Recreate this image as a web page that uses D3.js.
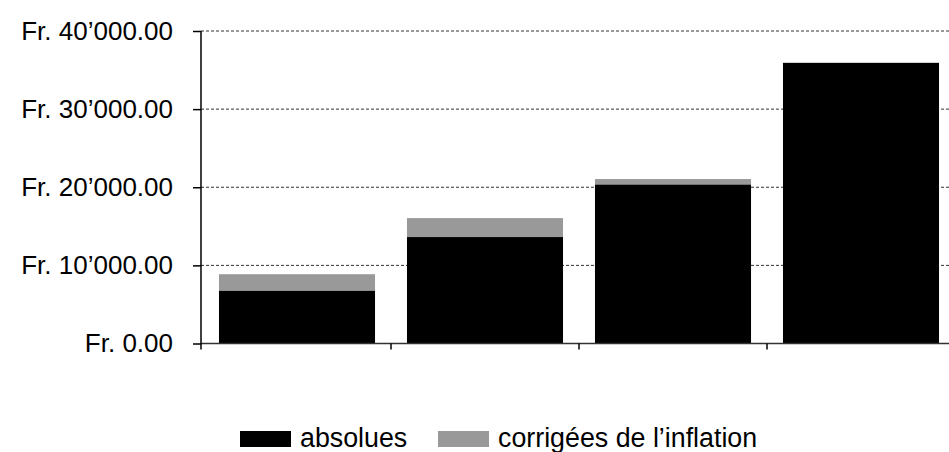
<!DOCTYPE html>
<html><head><meta charset="utf-8">
<script src="https://cdn.jsdelivr.net/npm/d3@7"></script>
<style>
html,body{margin:0;padding:0;background:#fff;}
svg{display:block;font-family:"Liberation Sans",Arial,Helvetica,sans-serif;}
</style></head>
<body><svg id="chart" width="949" height="452"></svg>
<script>
const categories = ["1", "2", "3", "4"];
const absolues = [6730, 13620, 20320, 35920];
const corrigees = [8870, 16050, 21050, 35920];
const tickValues = [0, 10000, 20000, 30000, 40000];
const tickLabels = ["Fr. 0.00", "Fr. 10’000.00", "Fr. 20’000.00", "Fr. 30’000.00", "Fr. 40’000.00"];
const seriesNames = ["absolues", "corrigées de l’inflation"];
const seriesColors = ["#000000", "#999999"];

const svg = d3.select("#chart");
const W = 949;
const y = d3.scaleLinear().domain([0, 40000]).range([343.5, 31]);
const x = d3.scaleBand().domain(categories).range([203, 955]).paddingInner(0.17).paddingOuter(0.085);
const axisX = 201;

// gridlines
svg.append("g").selectAll("line").data(tickValues.filter(d => d > 0)).join("line")
  .attr("x1", axisX).attr("x2", W)
  .attr("y1", d => y(d)).attr("y2", d => y(d))
  .attr("stroke", "#333").attr("stroke-width", 1).attr("stroke-dasharray", "3,2");

// bars: corrected behind, absolute in front
svg.append("g").selectAll("rect").data(categories).join("rect")
  .attr("x", d => x(d)).attr("width", x.bandwidth())
  .attr("y", (d, i) => y(corrigees[i])).attr("height", (d, i) => y(0) - y(corrigees[i]))
  .attr("fill", seriesColors[1]);
svg.append("g").selectAll("rect").data(categories).join("rect")
  .attr("x", d => x(d)).attr("width", x.bandwidth())
  .attr("y", (d, i) => y(absolues[i])).attr("height", (d, i) => y(0) - y(absolues[i]))
  .attr("fill", seriesColors[0]);

// x axis baseline and ticks
svg.append("line").attr("x1", axisX).attr("x2", W).attr("y1", y(0)).attr("y2", y(0))
  .attr("stroke", "#333").attr("stroke-width", 1.5);
const boundaries = categories.slice(1).map(c => x(c) - x.step() * x.paddingInner() / 2);
svg.append("g").selectAll("line").data(boundaries).join("line")
  .attr("x1", d => d).attr("x2", d => d).attr("y1", y(0)).attr("y2", y(0) + 6)
  .attr("stroke", "#000").attr("stroke-width", 1.5);

// y axis
const yAxis = d3.axisLeft(y).tickValues(tickValues)
  .tickFormat((d, i) => tickLabels[i]).tickSize(8).tickPadding(20);
const gy = svg.append("g").attr("transform", `translate(${axisX},0)`).call(yAxis);
gy.select(".domain").remove();
gy.selectAll(".tick line").attr("stroke", "#000").attr("stroke-width", 1.5);
gy.selectAll("text").attr("font-size", 26).attr("fill", "#000")
  .attr("font-family", "'Liberation Sans',Arial,Helvetica,sans-serif");
svg.append("line").attr("x1", axisX).attr("x2", axisX).attr("y1", y(40000)).attr("y2", y(0) + 6)
  .attr("stroke", "#000").attr("stroke-width", 1.5);

// legend
const legendX = [240, 438];
const lg = svg.append("g").selectAll("g").data(seriesNames).join("g")
  .attr("transform", (d, i) => `translate(${legendX[i]},431)`);
lg.append("rect").attr("width", 51).attr("height", 16).attr("fill", (d, i) => seriesColors[i]);
lg.append("text").attr("x", 60).attr("y", 16).attr("font-size", 26.8).attr("fill", "#000").text(d => d);
</script></body></html>
